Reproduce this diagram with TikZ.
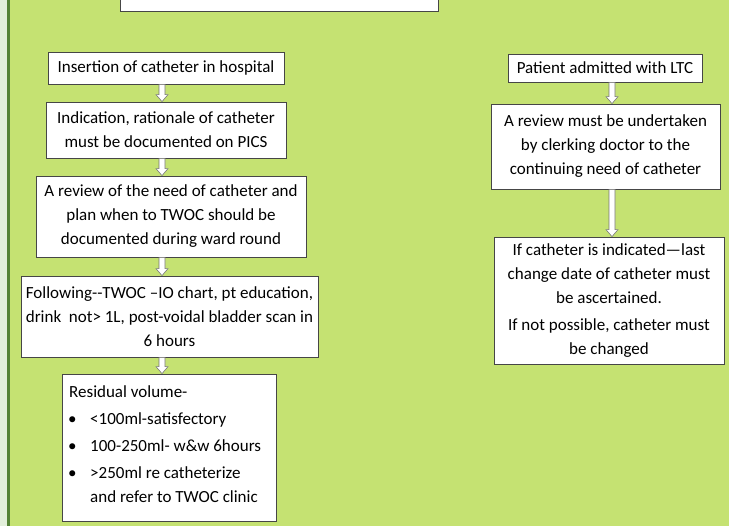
\documentclass[tikz,border=0pt]{standalone}
\usepackage{fontspec}
\setmainfont{Carlito}
\usetikzlibrary{calc}
\definecolor{bglime}{RGB}{197,226,114}
\definecolor{strip}{RGB}{226,239,218}
\definecolor{darkgreen}{RGB}{84,130,53}
\definecolor{boxline}{RGB}{70,70,70}
\definecolor{arrowline}{RGB}{120,120,120}
\newcommand\fs{\fontsize{17pt}{24pt}\selectfont}
\newcommand\bul{\makebox[21pt][l]{\hspace{-1pt}\textbullet}}
\newcommand\hollowarrow[3]{%
  \path let \p0=#1, \p1=#2, \p2=#3 in
    [draw=arrowline, fill=white, line width=0.6pt]
    (\x0-3pt,\y1) -- (\x0+3pt,\y1) -- (\x0+3pt,\y2+7pt) -- (\x0+6pt,\y2+7pt)
    -- (\x0,\y2) -- (\x0-6pt,\y2+7pt) -- (\x0-3pt,\y2+7pt) -- cycle;}
\begin{document}
\begin{tikzpicture}[x=1pt,y=-1pt,
  box/.style={draw=boxline, fill=white, line width=0.8pt, inner sep=0pt, align=center, font=\fs}]
\useasboundingbox (0,0) rectangle (729,526);
\clip (0,0) rectangle (729,526);
% background
\fill[bglime] (0,0) rectangle (729,526);
\fill[strip] (0,0) rectangle (7,526);
\fill[darkgreen] (7,0) rectangle (9.5,526);
% title box (cut off at top)
\node[draw=boxline, fill=white, line width=0.8pt, minimum width=318pt, minimum height=22pt, inner sep=0pt] (title) at (279,0) {};
% left column
\node[box, minimum width=236pt, minimum height=32pt] (b1) at (166,68) {Insertion of catheter in hospital};
\node[box, minimum width=240pt, minimum height=56pt] (b2) at (166,130) {Indication, rationale of catheter\\must be documented on PICS};
\node[box, minimum width=270pt, minimum height=81pt] (b3) at (171,216.5) {A review of the need of catheter and\\plan when to TWOC should be\\documented during ward round};
\node[box, minimum width=297pt, minimum height=81pt] (b4) at (169.5,316.5) {Following-\kern0pt-TWOC –IO chart, pt education,\\drink\ \ not> 1L, post-voidal bladder scan in\\6 hours};
\node[box, minimum width=214pt, minimum height=147pt] (b5) at (169,447.5) {};
\node[anchor=north west, inner sep=0pt, align=left, font=\fs] (b5text) at (69,385) {Residual volume-\\[3pt]
\bul<100ml-satisfectory\\[3pt]
\bul 100-250ml- w\&w 6hours\\[3pt]
\bul>250ml re catheterize\\
\hspace*{21pt}and refer to TWOC clinic};
% right column
\node[box, minimum width=194pt, minimum height=28pt] (r1) at (605,68) {Patient admitted with LTC};
\node[box, minimum width=229pt, minimum height=85pt] (r2) at (605.5,146.5) {A review must be undertaken\\by clerking doctor to the\\continuing need of catheter};
\node[box, minimum width=230pt, minimum height=127pt] (r3) at (609,300.5) {If catheter is indicated—last\\change date of catheter must\\be ascertained.\\[3pt]If not possible, catheter must\\be changed};
% arrows
\coordinate (lx) at (162,0);
\coordinate (rx) at (612,0);
\hollowarrow{(lx)}{(b1.south)}{(b2.north)}
\hollowarrow{(lx)}{(b2.south)}{(b3.north)}
\hollowarrow{(lx)}{(b3.south)}{(b4.north)}
\hollowarrow{(lx)}{(b4.south)}{(b5.north)}
\hollowarrow{(rx)}{(r1.south)}{(r2.north)}
\hollowarrow{(rx)}{(r2.south)}{(r3.north)}
\end{tikzpicture}
\end{document}
